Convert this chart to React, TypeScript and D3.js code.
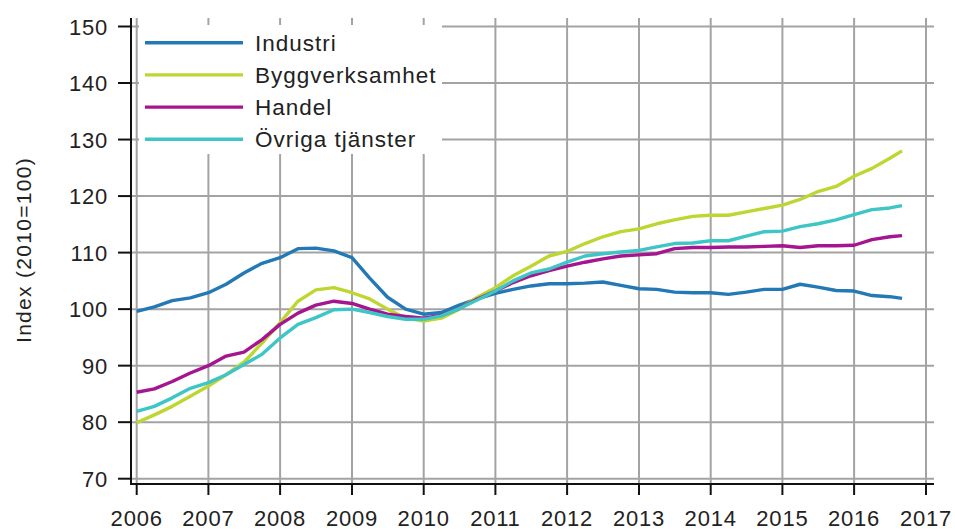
import React, { useEffect, useRef } from 'react';
import * as d3 from 'd3';

// quarterly observations, last one is the latest month
const periods = [
  '2006-01', '2006-04', '2006-07', '2006-10',
  '2007-01', '2007-04', '2007-07', '2007-10',
  '2008-01', '2008-04', '2008-07', '2008-10',
  '2009-01', '2009-04', '2009-07', '2009-10',
  '2010-01', '2010-04', '2010-07', '2010-10',
  '2011-01', '2011-04', '2011-07', '2011-10',
  '2012-01', '2012-04', '2012-07', '2012-10',
  '2013-01', '2013-04', '2013-07', '2013-10',
  '2014-01', '2014-04', '2014-07', '2014-10',
  '2015-01', '2015-04', '2015-07', '2015-10',
  '2016-01', '2016-04', '2016-07', '2016-09',
];

const industri = [
  99.6, 100.4, 101.5, 102.0, 102.9, 104.4, 106.4, 108.1, 109.1, 110.7, 110.8, 110.3,
  109.1, 105.5, 102.1, 100.0, 99.1, 99.4, 100.7, 101.8, 102.8, 103.5, 104.1, 104.5,
  104.5, 104.6, 104.8, 104.2, 103.6, 103.5, 103.0, 102.9, 102.9, 102.6, 103.0, 103.5,
  103.5, 104.4, 103.9, 103.3, 103.2, 102.4, 102.2, 101.9,
];
const bygg = [
  79.9, 81.3, 82.8, 84.6, 86.4, 88.4, 90.6, 94.0, 97.6, 101.4, 103.4, 103.8,
  102.9, 101.8, 100.0, 98.4, 97.9, 98.4, 100.0, 102.1, 103.8, 105.9, 107.6, 109.4,
  110.2, 111.6, 112.8, 113.7, 114.2, 115.1, 115.8, 116.4, 116.6, 116.6, 117.2, 117.8,
  118.4, 119.4, 120.8, 121.7, 123.5, 124.9, 126.7, 128.0,
];
const handel = [
  85.3, 85.9, 87.2, 88.7, 90.0, 91.7, 92.4, 94.6, 97.3, 99.3, 100.7, 101.4,
  101.0, 100.0, 99.1, 98.7, 98.4, 98.9, 100.1, 101.8, 103.2, 104.7, 105.9, 106.8,
  107.6, 108.3, 108.9, 109.4, 109.6, 109.8, 110.7, 110.9, 110.9, 111.0, 111.0, 111.1,
  111.2, 110.9, 111.2, 111.2, 111.3, 112.3, 112.8, 113.0,
];
const ovriga = [
  81.9, 82.8, 84.3, 86.0, 87.0, 88.4, 90.2, 92.0, 94.9, 97.3, 98.5, 99.9,
  100.0, 99.4, 98.7, 98.2, 98.2, 98.8, 100.1, 101.6, 103.2, 105.0, 106.4, 107.1,
  108.3, 109.4, 109.8, 110.1, 110.4, 111.0, 111.6, 111.7, 112.1, 112.1, 112.9, 113.7,
  113.8, 114.6, 115.1, 115.8, 116.7, 117.6, 117.9, 118.3,
];

const seriesNames = ['Industri', 'Byggverksamhet', 'Handel', 'Övriga tjänster'];
const seriesValues = [industri, bygg, handel, ovriga];
const colors = ['#2379b5', '#bfd632', '#a5158f', '#3ec6c6'];
const yTicks = [70, 80, 90, 100, 110, 120, 130, 140, 150];
const yearTicks = d3.range(2006, 2018);

export default function App() {
  const ref = useRef<SVGSVGElement | null>(null);

  useEffect(() => {
    const svg = d3.select(ref.current);
    svg.selectAll('*').remove();
    const font = 'Liberation Sans, Arial, sans-serif';

    const parse = d3.timeParse('%Y-%m');
    const dates = periods.map(p => parse(p) as Date);

    const x = d3.scaleTime()
      .domain([new Date(2006, 0, 1), new Date(2017, 0, 1)])
      .range([136.7, 926]);
    const y = d3.scaleLinear().domain([70, 150]).range([478.7, 26.5]);

    const left = 131, right = 934, top = 18, bottom = 484;

    // grid
    const grid = svg.append('g').attr('stroke', '#a3a3a3').attr('stroke-width', 2);
    yTicks.forEach(t => {
      grid.append('line').attr('x1', left).attr('x2', right).attr('y1', y(t)).attr('y2', y(t));
    });
    yearTicks.forEach(yr => {
      const xx = x(new Date(yr, 0, 1));
      grid.append('line').attr('x1', xx).attr('x2', xx).attr('y1', top).attr('y2', bottom);
    });

    // lines
    const line = d3.line<number>()
      .x((_, i) => x(dates[i]))
      .y(d => y(d));
    seriesValues.forEach((vals, i) => {
      svg.append('path')
        .datum(vals)
        .attr('fill', 'none')
        .attr('stroke', colors[i])
        .attr('stroke-width', 3.4)
        .attr('stroke-linejoin', 'round')
        .attr('d', line);
    });

    // axes
    const axes = svg.append('g').attr('stroke', '#111').attr('stroke-width', 2);
    axes.append('line').attr('x1', left).attr('x2', left).attr('y1', top).attr('y2', bottom + 1);
    axes.append('line').attr('x1', left).attr('x2', right).attr('y1', bottom).attr('y2', bottom);
    yTicks.forEach(t => {
      axes.append('line').attr('x1', 118).attr('x2', left).attr('y1', y(t)).attr('y2', y(t));
    });
    yearTicks.forEach(yr => {
      const xx = x(new Date(yr, 0, 1));
      axes.append('line').attr('x1', xx).attr('x2', xx).attr('y1', bottom).attr('y2', 495);
    });

    svg.append('g').selectAll('text').data(yTicks).join('text')
      .attr('x', 108).attr('y', d => y(d) + 8)
      .attr('text-anchor', 'end')
      .attr('font-family', font).attr('font-size', 22).attr('letter-spacing', 0.8)
      .attr('fill', '#222')
      .text(d => d);

    svg.append('g').selectAll('text').data(yearTicks).join('text')
      .attr('x', d => x(new Date(d, 0, 1))).attr('y', 526)
      .attr('text-anchor', 'middle')
      .attr('font-family', font).attr('font-size', 22).attr('letter-spacing', 0.8)
      .attr('fill', '#222')
      .text(d => d);

    svg.append('text')
      .attr('transform', 'translate(31,250) rotate(-90)')
      .attr('text-anchor', 'middle')
      .attr('font-family', font).attr('font-size', 21).attr('letter-spacing', 1.3)
      .attr('fill', '#222')
      .text('Index (2010=100)');

    // legend
    const lg = svg.append('g');
    lg.append('rect').attr('x', 139).attr('y', 25).attr('width', 303).attr('height', 129).attr('fill', '#fff');
    seriesNames.forEach((name, i) => {
      const ly = 42.7 + i * 32.2;
      lg.append('line').attr('x1', 145).attr('x2', 243).attr('y1', ly).attr('y2', ly)
        .attr('stroke', colors[i]).attr('stroke-width', 3.4);
      lg.append('text').attr('x', 255).attr('y', ly + 8)
        .attr('font-family', font).attr('font-size', 22.5).attr('letter-spacing', 1)
        .attr('fill', '#222')
        .text(name);
    });
  }, []);

  return (
    <svg ref={ref} width={955} height={532}
      style={{ position: 'absolute', left: 0, top: 0, background: '#fff' }} />
  );
}
